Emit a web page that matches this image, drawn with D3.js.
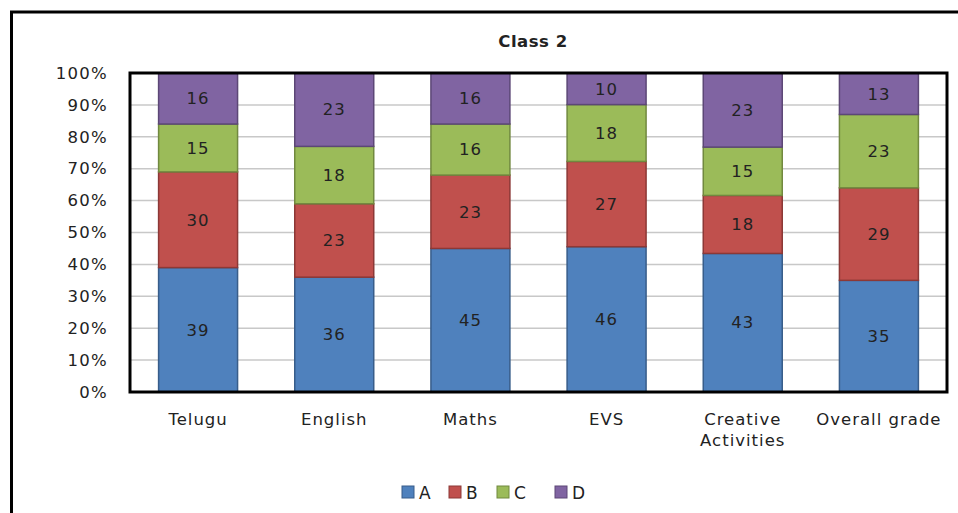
<!DOCTYPE html>
<html>
<head>
<meta charset="utf-8">
<script src="https://cdn.jsdelivr.net/npm/d3@7"></script>
<style>
  body { margin: 0; background: white; }
  text { font-family: "DejaVu Sans", Verdana, sans-serif; fill: #222; }
</style>
</head>
<body>
<svg id="chart"></svg>
<script>
(function(){

	// data
	var subjects = ["Telugu", "English", "Maths", "EVS", "Creative Activities", "Overall grade"];
	var grades = ["A", "B", "C", "D"];
	var gradeA = [39, 36, 45, 46, 43, 35];
	var gradeB = [30, 23, 23, 27, 18, 29];
	var gradeC = [15, 18, 16, 18, 15, 23];
	var gradeD = [16, 23, 16, 10, 23, 13];
	var yTicks = [0, 0.1, 0.2, 0.3, 0.4, 0.5, 0.6, 0.7, 0.8, 0.9, 1];

	var fills = ["#4F81BD", "#C0504D", "#9BBB59", "#8064A2"];
	var strokes = ["#385D8A", "#8C3836", "#71893F", "#5C4776"];

	var svgWidth = 958, svgHeight = 513;
	var plot = {left: 130, top: 73, right: 947, bottom: 392};

	var svg = d3.select("#chart")
		.attr("width", svgWidth)
		.attr("height", svgHeight);

	// outer frame (left + top edges visible)
	svg.append("path")
		.attr("d", "M11.5," + svgHeight + " V12 H" + svgWidth)
		.attr("fill", "none")
		.attr("stroke", "#000")
		.attr("stroke-width", 3);

	//build table for the stack
	var table = subjects.map(function(s, i){
		return {subject: s, A: gradeA[i], B: gradeB[i], C: gradeC[i], D: gradeD[i]};
	});
	var series = d3.stack().keys(grades).offset(d3.stackOffsetExpand)(table);

	var x = d3.scaleBand()
		.domain(subjects)
		.range([plot.left, plot.right])
		.paddingInner(0.42)
		.paddingOuter(0.21);
	var y = d3.scaleLinear()
		.domain([0, 1])
		.range([plot.bottom, plot.top]);

	// gridlines
	svg.append("g")
		.selectAll("line")
		.data(yTicks.slice(1, -1))
		.enter()
		.append("line")
		.attr("x1", plot.left).attr("x2", plot.right)
		.attr("y1", function(d){ return y(d); })
		.attr("y2", function(d){ return y(d); })
		.attr("stroke", "#c8c8c8")
		.attr("stroke-width", 1.5);

	// y axis labels
	var yAxis = svg.append("g")
		.attr("transform", "translate(" + plot.left + ",0)")
		.call(d3.axisLeft(y).tickValues(yTicks).tickFormat(d3.format(".0%")).tickSize(0).tickPadding(22));
	yAxis.select(".domain").remove();
	yAxis.selectAll("text")
		.attr("font-size", "16.5px")
		.attr("letter-spacing", "1.3px")
		.attr("fill", "#222")
		.attr("font-family", "DejaVu Sans, sans-serif");

	// bars
	var layers = svg.append("g")
		.selectAll("g")
		.data(series)
		.enter()
		.append("g")
		.attr("fill", function(d, i){ return fills[i]; })
		.attr("stroke", function(d, i){ return strokes[i]; });

	layers.selectAll("rect")
		.data(function(d){ return d; })
		.enter()
		.append("rect")
		.attr("x", function(d){ return x(d.data.subject); })
		.attr("width", x.bandwidth())
		.attr("y", function(d){ return y(d[1]); })
		.attr("height", function(d){ return y(d[0]) - y(d[1]); })
		.attr("stroke-width", 1.5);

	// value labels
	layers.selectAll("text")
		.data(function(d){
			return d.map(function(p){ return {p: p, key: d.key}; });
		})
		.enter()
		.append("text")
		.attr("x", function(d){ return x(d.p.data.subject) + x.bandwidth() / 2; })
		.attr("y", function(d){ return (y(d.p[0]) + y(d.p[1])) / 2; })
		.attr("dy", "0.35em")
		.attr("text-anchor", "middle")
		.attr("stroke", "none")
		.attr("font-size", "16.5px")
		.attr("letter-spacing", "1px")
		.style("fill", "#222")
		.text(function(d){ return d.p.data[d.key]; });

	// plot border
	svg.append("rect")
		.attr("x", plot.left)
		.attr("y", plot.top)
		.attr("width", plot.right - plot.left)
		.attr("height", plot.bottom - plot.top)
		.attr("fill", "none")
		.attr("stroke", "#000")
		.attr("stroke-width", 3);

	// x labels
	var xLab = svg.append("g")
		.selectAll("text")
		.data(subjects)
		.enter()
		.append("text")
		.attr("x", function(d){ return x(d) + x.bandwidth() / 2; })
		.attr("y", 425)
		.attr("text-anchor", "middle")
		.attr("font-size", "16.5px")
		.attr("letter-spacing", "1px");
	xLab.each(function(d){
		var words = d === "Creative Activities" ? ["Creative", "Activities"] : [d];
		var t = d3.select(this);
		words.forEach(function(w, i){
			t.append("tspan")
				.attr("x", t.attr("x"))
				.attr("dy", i === 0 ? 0 : "1.25em")
				.text(w);
		});
	});

	// title
	svg.append("text")
		.attr("x", 533)
		.attr("y", 47)
		.attr("text-anchor", "middle")
		.attr("font-size", "16.5px")
		.attr("font-weight", "bold")
		.attr("letter-spacing", "0.5px")
		.text("Class 2");

	// legend
	var legendX = [402, 449, 497, 555];
	var legend = svg.append("g")
		.selectAll("g")
		.data(grades)
		.enter()
		.append("g")
		.attr("transform", function(d, i){ return "translate(" + legendX[i] + ",486)"; });
	legend.append("rect")
		.attr("width", 12)
		.attr("height", 12)
		.attr("fill", function(d, i){ return fills[i]; })
		.attr("stroke", function(d, i){ return strokes[i]; });
	legend.append("text")
		.attr("x", 17)
		.attr("y", 12.5)
		.attr("font-size", "17px")
		.text(function(d){ return d; });

})();
</script>
</body>
</html>
